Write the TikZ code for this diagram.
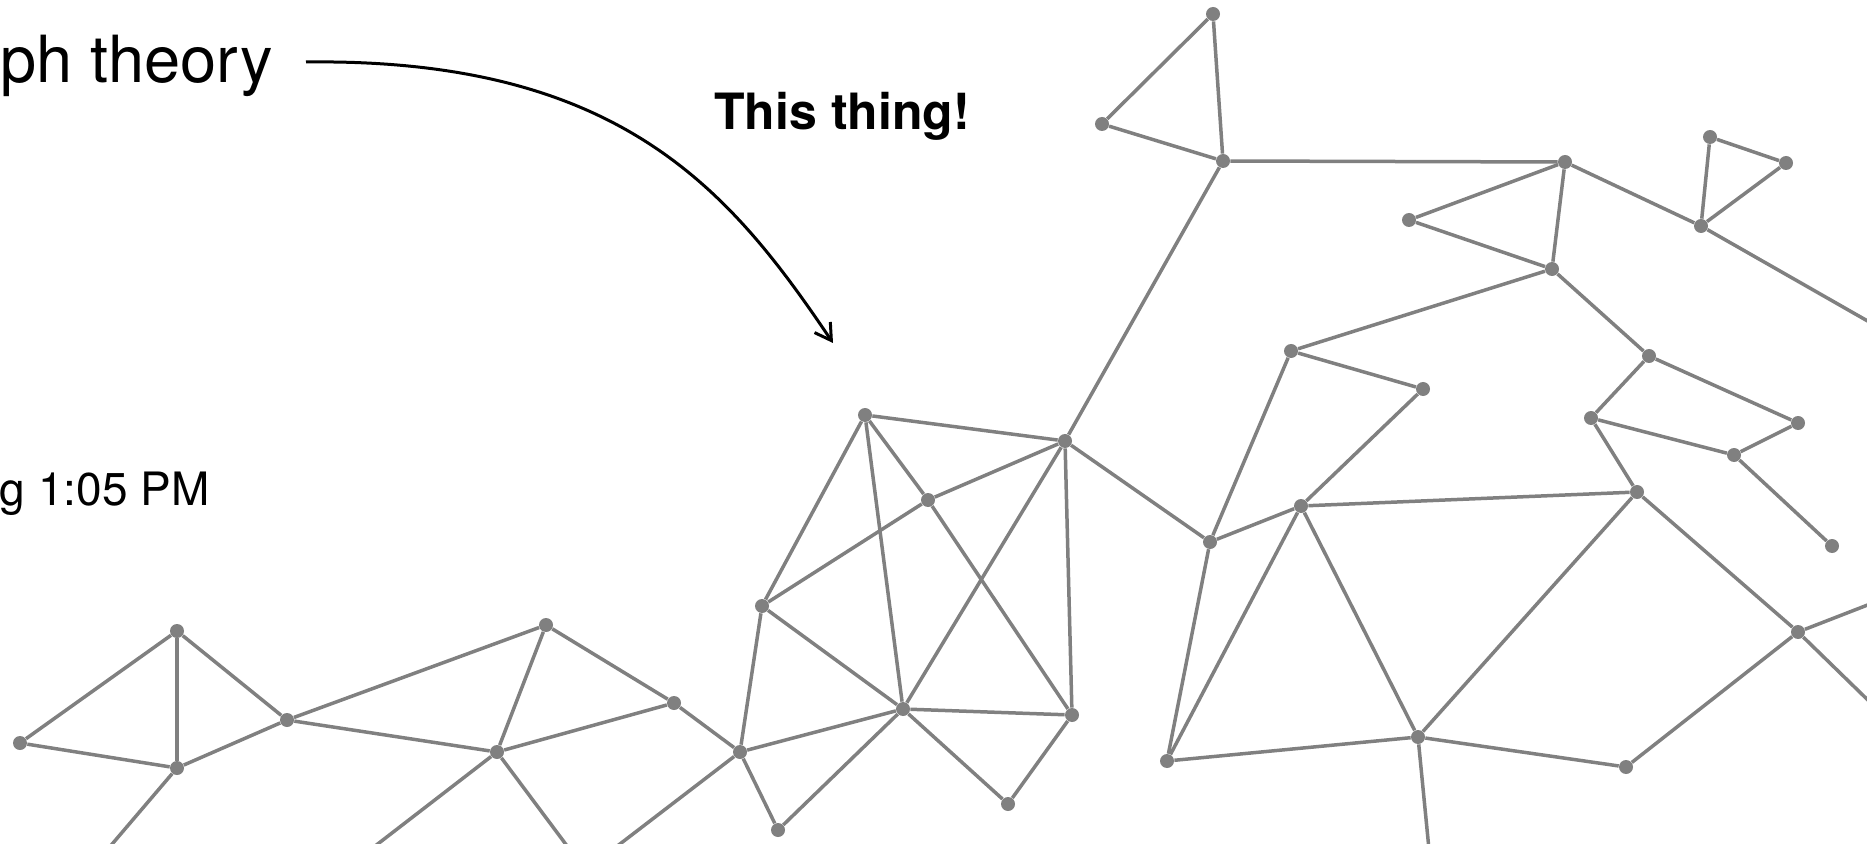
\documentclass[tikz,border=0pt]{standalone}
\usepackage{fontspec}
\setmainfont{TeX Gyre Heros}
\usetikzlibrary{arrows.meta}
\definecolor{graygc}{RGB}{128,128,128}
\begin{document}
\begin{tikzpicture}[x=0.5pt,y=-0.5pt,
  vtx/.style={circle,fill=graygc,inner sep=0pt,minimum size=7pt},
  gedge/.style={draw=graygc,line width=1.75pt},
  lbl/.style={inner sep=0pt,text=black}]
\useasboundingbox (0,0) rectangle (1867,844);
\clip (0,0) rectangle (1867,844);
% vertices
\foreach \n/\x/\y in {A1/1213/14,A2/1102/124,A3/1223/161,
  B1/1565/162,B2/1710/137,B3/1786/163,B4/1409/220,B5/1701/226,B6/1552/269,
  C1/1291/351,C2/1423/389,C3/1649/356,C4/1591/418,C5/1798/423,C6/1734/455,C7/1832/546,
  D1/865/415,D2/1065/441,D3/928/500,D4/1210/542,D5/1301/506,D6/1637/492,
  E1/762/606,E2/903/709,E3/1072/715,E4/1008/804,E5/740/752,E6/778/830,
  F1/1167/761,F2/1418/737,F3/1626/767,F4/1798/632,
  G1/177/631,G2/20/743,G3/177/768,G4/287/720,G5/546/625,G6/497/752,G7/674/703}
  {\node[vtx] (\n) at (\x,\y) {};}
% off-frame ends
\coordinate (oB5) at (1950,368);
\coordinate (oF4a) at (1950,573);
\coordinate (oF4b) at (1950,780);
\coordinate (oF2) at (1431,870);
\coordinate (oG3) at (90,870);
\coordinate (oG6a) at (344,870);
\coordinate (oG6b) at (585,870);
\coordinate (oE5) at (586,870);
% edges
\foreach \a/\b in {A1/A2,A1/A3,A2/A3,A3/B1,A3/D2,
  B1/B4,B1/B6,B1/B5,B4/B6,B2/B3,B2/B5,B3/B5,B5/oB5,B6/C1,B6/C3,
  C1/C2,C1/D4,C2/D5,C3/C4,C3/C5,C4/C6,C5/C6,C6/C7,C4/D6,
  D1/D2,D1/D3,D1/E1,D1/E2,D2/D3,D2/D4,D2/E2,D2/E3,D3/E1,D3/E3,
  D4/D5,D4/F1,D5/F1,D5/F2,D5/D6,D6/F2,D6/F4,
  E1/E2,E1/E5,E2/E5,E2/E3,E2/E6,E2/E4,E3/E4,E5/E6,E5/G7,E5/oE5,
  F1/F2,F2/F3,F3/F4,F2/oF2,F4/oF4a,F4/oF4b,
  G1/G2,G1/G3,G1/G4,G2/G3,G3/G4,G3/oG3,G4/G5,G4/G6,G5/G6,G5/G7,G6/G7,G6/oG6a,G6/oG6b}
  {\draw[gedge] (\a) -- (\b);}
% texts
\node[lbl,anchor=base east,font=\fontsize{32.5pt}{38pt}\selectfont] (title) at (273,83) {ph theory};
\node[lbl,anchor=base west,font=\bfseries\fontsize{25pt}{30pt}\selectfont] (thing) at (714,130) {This thing!};
\node[lbl,anchor=base east,font=\fontsize{23pt}{28pt}\selectfont] (date) at (210,505) {g 1:05 PM};
% arrow
\coordinate (astart) at (306,62);
\coordinate (atip) at (833,343);
\draw[line width=1.5pt,-{Straight Barb[length=8pt,width=9.5pt,line width=1.5pt]}]
  (astart) .. controls (620,58) and (730,190) .. (atip);
\end{tikzpicture}
\end{document}
